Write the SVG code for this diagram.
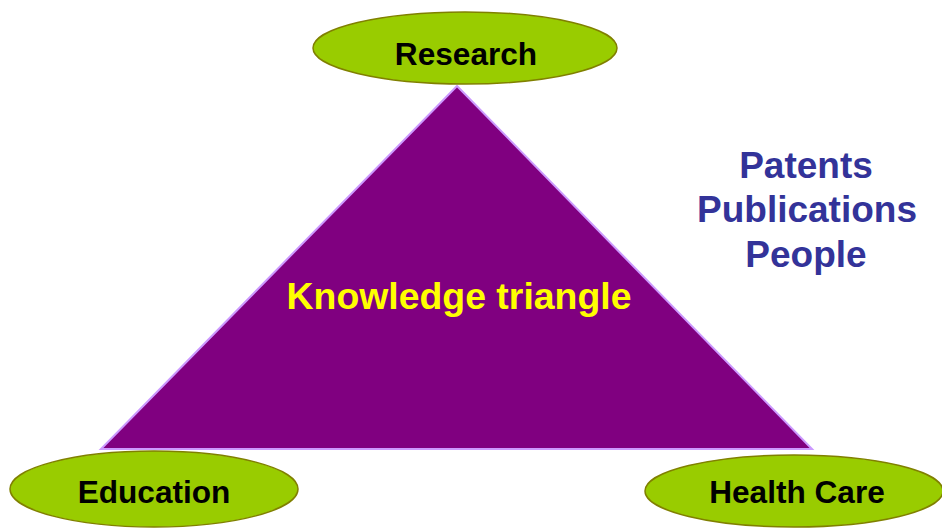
<svg xmlns="http://www.w3.org/2000/svg" width="942" height="529" viewBox="0 0 942 529">
<style>
.node ellipse{fill:#99cc00;stroke:#808000;stroke-width:1.5}
.node text{font-family:"Liberation Sans",Arial,sans-serif;font-weight:bold;font-size:31.6px;fill:#000;text-anchor:middle}
.side{font-family:"Liberation Sans",Arial,sans-serif;font-weight:bold;font-size:37px;fill:#333399;text-anchor:middle}
</style>
<rect width="942" height="529" fill="#ffffff"/>
<g id="triangle">
<polygon points="457,86 101,449 812,449" fill="#800080" stroke="#cc99ff" stroke-width="2"/>
<text x="459" y="309" font-family="Liberation Sans, Arial, sans-serif" font-weight="bold" font-size="37.4" fill="#ffff00" text-anchor="middle">Knowledge triangle</text>
</g>
<g id="connectors"></g>
<g id="research" class="node">
<ellipse cx="465" cy="48" rx="152" ry="36"/>
<text x="466" y="65">Research</text>
</g>
<g id="education" class="node">
<ellipse cx="154" cy="489" rx="144" ry="38"/>
<text x="154" y="503">Education</text>
</g>
<g id="healthcare" class="node">
<ellipse cx="794" cy="491" rx="149" ry="36"/>
<text x="797" y="503">Health Care</text>
</g>
<g id="outputs">
<text class="side" x="806" y="178">Patents</text>
<text class="side" x="807" y="222">Publications</text>
<text class="side" x="806" y="267">People</text>
</g>
</svg>
